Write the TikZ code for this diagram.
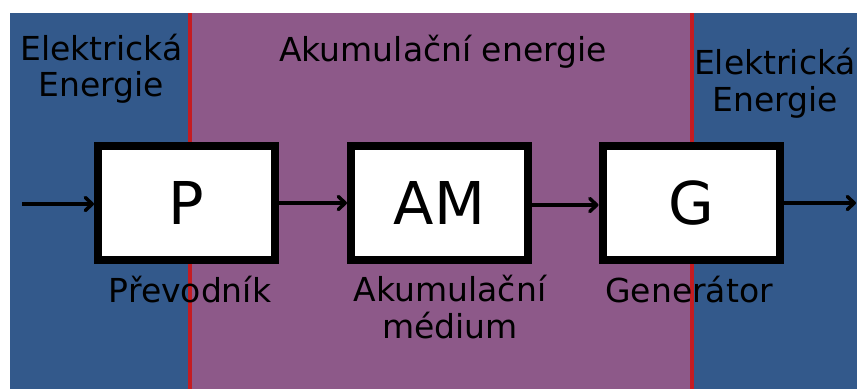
\documentclass[tikz,border=0pt]{standalone}
\usepackage{fontspec}
\setmainfont{DejaVu Sans}
\usetikzlibrary{arrows.meta}
\definecolor{zoneblue}{RGB}{51,89,139}
\definecolor{zonepurple}{RGB}{141,89,137}
\definecolor{zonered}{RGB}{196,28,34}
\tikzset{
  blockbox/.style={draw=black, fill=white, line width=8pt, minimum width=177pt, minimum height=114pt, inner sep=0pt, font=\fontsize{59}{66}\selectfont},
  lbl/.style={anchor=base, inner sep=0pt, align=center, font=\fontsize{33}{36.5}\selectfont},
  flow/.style={line width=3.5pt, -{Straight Barb[length=7pt, width=13pt, line cap=round, line join=round]}},
  divider/.style={zonered, line width=4.5pt}
}
\begin{document}
\begin{tikzpicture}[x=1pt, y=-1pt]
\useasboundingbox (0,0) rectangle (857,389);
% zones
\fill[zoneblue] (10,13) rectangle (857,389);
\fill[zonepurple] (190,13) rectangle (692,389);
\draw[divider] (190,13) -- (190,389);
\draw[divider] (692,13) -- (692,389);
% zone titles
\node[lbl] (t1) at (101.5,96.5) {Elektrická\\Energie};
\node[lbl] (t2) at (443,61) {Akumulační energie};
\node[lbl] (t3) at (775,111) {Elektrická\\Energie};
% blocks
\node[blockbox] (P) at (186.5,203) {P};
\node[blockbox] (AM) at (439.5,203) {AM};
\node[blockbox] (G) at (691,203) {G};
% labels
\node[lbl] (lP) at (190,302) {Převodník};
\node[lbl] (lAM) at (450,338) {Akumulační\\médium};
\node[lbl] (lG) at (689,302) {Generátor};
% connectors
\coordinate (in) at (22,204);
\coordinate (out) at (856,203);
\draw[flow] (in) -- (P.west |- in);
\draw[flow] (P.east) -- (AM.west);
\draw[flow] ([yshift=-2pt]AM.east) -- ([yshift=-2pt]G.west);
\draw[flow] (G.east) -- (out);
\end{tikzpicture}
\end{document}
